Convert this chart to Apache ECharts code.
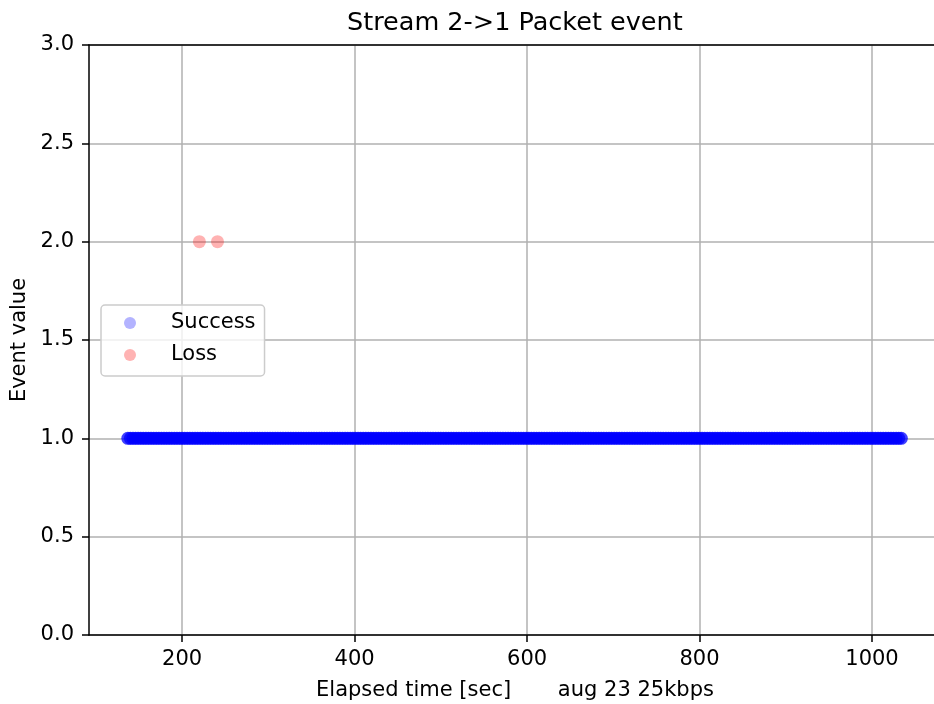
<!DOCTYPE html>
<html>
<head>
<meta charset="utf-8">
<script src="https://cdn.jsdelivr.net/npm/echarts@6/dist/echarts.min.js"></script>
<style>
  html, body { margin: 0; padding: 0; background: #fff; overflow: hidden; }
  #chart { width: 934px; height: 704px; }
</style>
</head>
<body>
<div id="chart"></div>
<script>
// ---- data ----
const titleText = 'Stream 2->1 Packet event';
const xAxisName = 'Elapsed time [sec]       aug 23 25kbps';
const yAxisName = 'Event value';
const xTicks = [200, 400, 600, 800, 1000];
const yTicks = [0, 0.5, 1, 1.5, 2, 2.5, 3];

// Success events (value 1) – elapsed times in seconds (approximate, dense stream)
const successTimes = [
  137,140,143,146,149,152,155,158,161,164,167,170,173,176,179,182,185,188,191,194,
  197,200,203,206,209,212,215,218,221,224,227,230,233,236,239,242,245,248,251,254,
  257,260,263,266,269,272,275,278,281,284,287,290,293,296,299,302,305,308,311,314,
  317,320,323,326,329,332,335,338,341,344,347,350,353,356,359,362,365,368,371,374,
  377,380,383,386,389,392,395,398,401,404,407,410,413,416,419,422,425,428,431,434,
  437,440,443,446,449,452,455,458,461,464,467,470,473,476,479,482,485,488,491,494,
  497,500,503,506,509,512,515,518,521,524,527,530,533,536,539,542,545,548,551,554,
  557,560,563,566,569,572,575,578,581,584,587,590,593,596,599,602,605,608,611,614,
  617,620,623,626,629,632,635,638,641,644,647,650,653,656,659,662,665,668,671,674,
  677,680,683,686,689,692,695,698,701,704,707,710,713,716,719,722,725,728,731,734,
  737,740,743,746,749,752,755,758,761,764,767,770,773,776,779,782,785,788,791,794,
  797,800,803,806,809,812,815,818,821,824,827,830,833,836,839,842,845,848,851,854,
  857,860,863,866,869,872,875,878,881,884,887,890,893,896,899,902,905,908,911,914,
  917,920,923,926,929,932,935,938,941,944,947,950,953,956,959,962,965,968,971,974,
  977,980,983,986,989,992,995,998,1001,1004,1007,1010,1013,1016,1019,1022,1025,1028,1031,1034
];
const successValue = 1;

// Loss events (value 2)
const lossTimes = [220, 241];
const lossValue = 2;

// ---- chart ----
const font = 'DejaVu Sans';
const chart = echarts.init(document.getElementById('chart'), null, { renderer: 'canvas' });

const spine = { color: '#000', width: 1.5 };

const option = {
  animation: false,
  backgroundColor: '#ffffff',
  textStyle: { fontFamily: font, color: '#000' },
  title: {
    text: titleText,
    left: 347,
    top: 10,
    padding: 0,
    textStyle: { fontFamily: font, fontSize: 25.5, fontWeight: 'normal', color: '#000' }
  },
  grid: {
    left: 89, width: 852, top: 45, height: 590,
    outerBoundsMode: 'none',
    containLabel: false,
    show: false
  },
  legend: {
    orient: 'vertical',
    left: 101, top: 305,
    padding: [6, 9, 9, 23],
    itemWidth: 12, itemHeight: 12, itemGap: 8,
    borderColor: '#cccccc', borderWidth: 1.5, borderRadius: 4,
    backgroundColor: 'rgba(255,255,255,0.8)',
    textStyle: { fontFamily: font, fontSize: 21, lineHeight: 24, color: '#000', padding: [0, 0, 0, 30] },
    data: [
      { name: 'Success', icon: 'circle', itemStyle: { color: '#b3b3ff', opacity: 1 } },
      { name: 'Loss', icon: 'circle', itemStyle: { color: '#ffb3b3', opacity: 1 } }
    ]
  },
  xAxis: [
    {
      type: 'value',
      min: 92, max: 1080,
      name: xAxisName,
      nameLocation: 'middle',
      nameGap: 45,
      nameTextStyle: { fontFamily: font, fontSize: 21, color: '#000' },
      axisLine: { show: true, onZero: false, lineStyle: spine },
      axisTick: { show: true, length: 7, lineStyle: spine, customValues: xTicks },
      axisLabel: {
        fontFamily: font, fontSize: 21, color: '#000', margin: 14,
        customValues: xTicks,
        formatter: v => String(v)
      },
      splitLine: { show: true, lineStyle: { color: '#b0b0b0', width: 1.5 } }
    },
    {
      type: 'value',
      position: 'top',
      min: 92, max: 1080,
      axisLine: { show: true, onZero: false, lineStyle: spine },
      axisTick: { show: false },
      axisLabel: { show: false },
      splitLine: { show: false }
    }
  ],
  yAxis: {
    type: 'value',
    min: 0, max: 3, interval: 0.5,
    name: yAxisName,
    nameLocation: 'middle',
    nameGap: 58,
    nameTextStyle: { fontFamily: font, fontSize: 21, color: '#000' },
    axisLine: { show: true, onZero: false, lineStyle: spine },
    axisTick: { show: true, length: 7, lineStyle: spine, customValues: yTicks },
    axisLabel: {
      fontFamily: font, fontSize: 21, color: '#000', margin: 15,
      customValues: yTicks,
      formatter: v => Number(v).toFixed(1)
    },
    splitLine: { show: true, lineStyle: { color: '#b0b0b0', width: 1.5 } }
  },
  series: [
    {
      name: 'Success',
      type: 'scatter',
      xAxisIndex: 0,
      symbol: 'circle',
      symbolSize: 13,
      itemStyle: { color: '#0000ff', opacity: 0.75 },
      data: successTimes.map(t => [t, successValue])
    },
    {
      name: 'Loss',
      type: 'scatter',
      xAxisIndex: 0,
      symbol: 'circle',
      symbolSize: 13,
      itemStyle: { color: '#ff0000', opacity: 0.3 },
      data: lossTimes.map(t => [t, lossValue])
    }
  ]
};
chart.setOption(option);
</script>
</body>
</html>
